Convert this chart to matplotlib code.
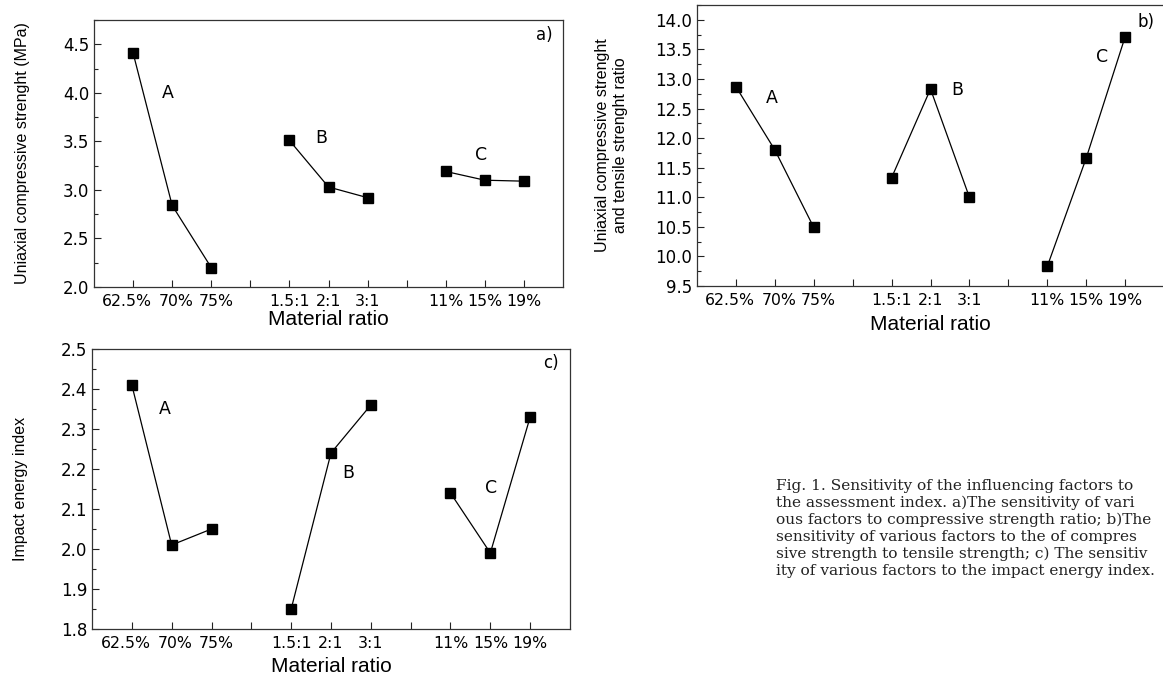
import numpy as np
import matplotlib.pyplot as plt
import matplotlib.transforms as mtrans
from matplotlib.ticker import MultipleLocator

plt.rcParams['font.family'] = ['Liberation Sans', 'DejaVu Sans']

# posiciones en el eje x (4 y 8 quedan vacias entre grupos)
pos_A = [1, 2, 3]
pos_B = [5, 6, 7]
pos_C = [9, 10, 11]
tick_pos = list(range(1, 12))
tick_labels = ['62.5%', '70%', '75%', '', '1.5:1', '2:1', '3:1', '', '11%', '15%', '19%']

# a) resistencia a compresion uniaxial (MPa)
a_A = [4.41, 2.84, 2.20]
a_B = [3.51, 3.03, 2.92]
a_C = [3.19, 3.10, 3.09]

# b) relacion compresion / traccion
b_A = [12.87, 11.80, 10.49]
b_B = [11.33, 12.83, 11.00]
b_C = [9.83, 11.66, 13.71]

# c) indice de energia de impacto
c_A = [2.41, 2.01, 2.05]
c_B = [1.85, 2.24, 2.36]
c_C = [2.14, 1.99, 2.33]

caption = ["Fig. 1. Sensitivity of the influencing factors to",
           "the assessment index. a)The sensitivity of vari",
           "ous factors to compressive strength ratio; b)The",
           "sensitivity of various factors to the of compres",
           "sive strength to tensile strength; c) The sensitiv",
           "ity of various factors to the impact energy index."]

fig = plt.figure(figsize=(11.63, 6.82), dpi=100)
W, H = 1163, 682
wide = ['DejaVu Sans']   # letra mas ancha para numeros y etiquetas A/B/C
# pequeño desplazamiento (px) de las etiquetas del eje x para que no choquen
shift_px = {0: -6, 1: 4, 2: 5}


def make_ax(l, t, r, b):
    return fig.add_axes([l / W, 1 - b / H, (r - l) / W, (b - t) / H])


def draw(ax, ys, ylim, major, minor, ylabel, ylab_x, xpad, tag, labels):
    for p, v in zip([pos_A, pos_B, pos_C], ys):
        ax.plot(p, v, color='black', lw=0.9, marker='s', ms=7, mfc='black', mec='black')
    ax.set_xlim(0, 12)
    ax.set_ylim(*ylim)
    ax.set_xticks(tick_pos)
    ax.set_xticklabels(tick_labels, fontsize=11.3, family=wide)
    ax.yaxis.set_major_locator(MultipleLocator(major))
    ax.yaxis.set_minor_locator(MultipleLocator(minor))
    ax.tick_params(direction='in', length=5, width=0.8, colors='#222222')
    ax.tick_params(which='minor', direction='in', length=3, width=0.8, colors='#222222')
    ax.tick_params(axis='x', pad=5, labelcolor='black')
    ax.tick_params(axis='y', labelsize=12, labelcolor='black')
    for t in ax.get_yticklabels():
        t.set_family(wide)
    for i, t in enumerate(ax.get_xticklabels()):
        if i in shift_px:
            off = mtrans.ScaledTranslation(shift_px[i] / 100, 0, fig.dpi_scale_trans)
            t.set_transform(t.get_transform() + off)
    for s in ax.spines.values():
        s.set_linewidth(0.9)
        s.set_color('#333333')
    ax.set_xlabel('Material ratio', fontsize=15, labelpad=xpad)
    ax.set_ylabel(ylabel, fontsize=11.5)
    ax.yaxis.set_label_coords(ylab_x, 0.5)
    ax.text(tag[0], tag[1], tag[2], fontsize=12, family=wide, ha='center', va='center')
    for x, y, s in labels:
        ax.text(x, y, s, fontsize=12.5, family=wide, ha='center', va='center')


ax1 = make_ax(94, 20, 563, 287)
draw(ax1, [a_A, a_B, a_C], (2.0, 4.75), 0.5, 0.25,
     'Uniaxial compressive strenght (MPa)', -0.136, 1, (11.53, 4.6, 'a)'),
     [(1.88, 4.0, 'A'), (5.82, 3.53, 'B'), (9.9, 3.36, 'C')])

ax2 = make_ax(697, 5, 1164, 286)
draw(ax2, [b_A, b_B, b_C], (9.5, 14.25), 0.5, 0.25,
     'Uniaxial compressive strenght\nand tensile strenght ratio', -0.148, 5, (11.54, 13.97, 'b)'),
     [(1.92, 12.67, 'A'), (6.7, 12.81, 'B'), (10.4, 13.37, 'C')])

ax3 = make_ax(92, 349, 570, 629)
draw(ax3, [c_A, c_B, c_C], (1.8, 2.5), 0.1, 0.05,
     'Impact energy index', -0.134, 4, (11.53, 2.464, 'c)'),
     [(1.82, 2.35, 'A'), (6.43, 2.19, 'B'), (10.03, 2.153, 'C')])

for i, line in enumerate(caption):
    fig.text(776 / W, 1 - (486 + i * 17) / H, line, fontsize=11.1,
             family=['DejaVu Serif'], ha='left', va='center', color='#222222')

fig.savefig('out.png', dpi=100)
